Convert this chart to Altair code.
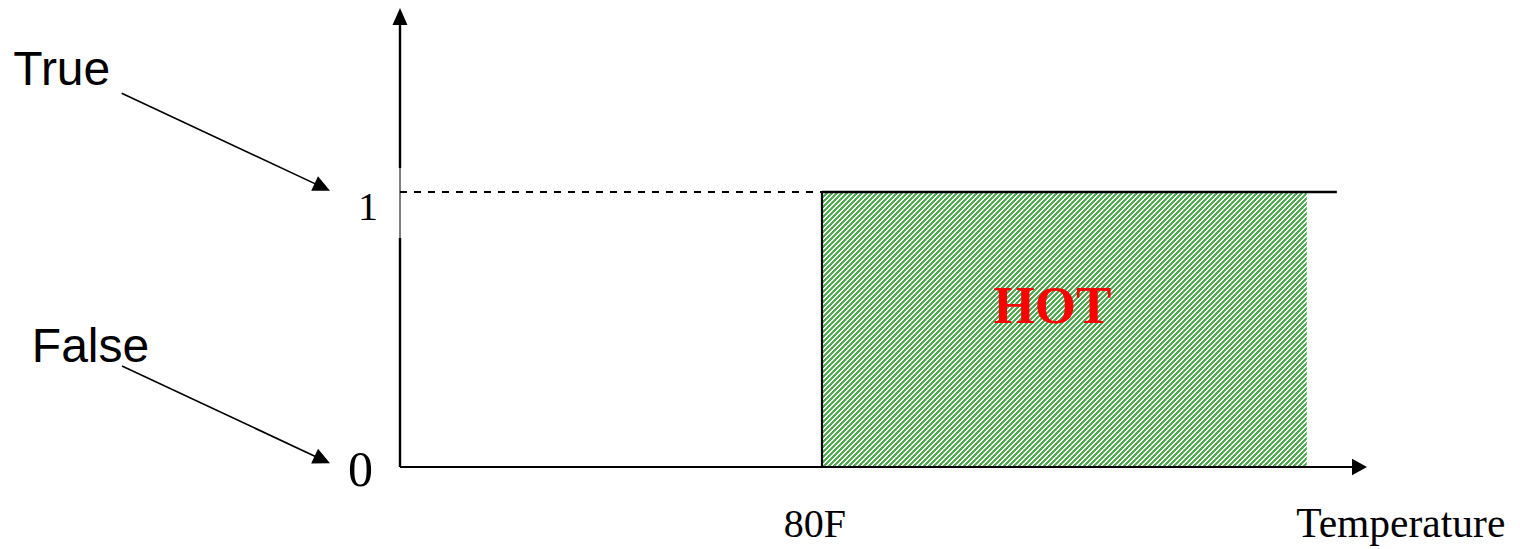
import altair as alt
import pandas as pd

# ---------------- data ----------------
truth_levels = [0, 1]
truth_tick_labels = ["0", "1"]
state_names = ["True", "False"]
state_targets = [1, 0]
threshold_temp = 80
threshold_label = "80F"
hot_end_temp = 171.9
step_line_end_temp = 177.6
axis_title = "Temperature"
region_label = "HOT"

# ---------------- scales (whole canvas is the plot area) ----------------
W, H = 1504, 538
X_DOM = [-74.313, 210.806]
Y_DOM = [-0.28727, 1.66909]
xs = alt.Scale(domain=X_DOM, nice=False, zero=False)
ys = alt.Scale(domain=Y_DOM, nice=False, zero=False)
PX = (X_DOM[1] - X_DOM[0]) / W   # data units per pixel (x)
PY = (Y_DOM[1] - Y_DOM[0]) / H   # data units per pixel (y)

def X(f):
    return alt.X(f, type="quantitative", scale=xs, axis=None)

def Y(f):
    return alt.Y(f, type="quantitative", scale=ys, axis=None)

y_top = 1.607
x_end = 180.6

# ---------------- line segments ----------------
seg = pd.DataFrame([
    dict(x=0, x2=0, y=truth_levels[0], y2=0.833, w=2.4),
    dict(x=0, x2=0, y=0.833, y2=1.087, w=1.0),
    dict(x=0, x2=0, y=1.087, y2=y_top, w=2.4),
    dict(x=0, x2=x_end, y=truth_levels[0], y2=truth_levels[0], w=2.0),
    dict(x=threshold_temp, x2=threshold_temp, y=truth_levels[0], y2=truth_levels[1], w=2.2),
    dict(x=threshold_temp, x2=step_line_end_temp, y=truth_levels[1], y2=truth_levels[1], w=2.5),
    dict(x=-52.76, x2=-14.73, y=1.3589, y2=1.0178, w=1.6),
    dict(x=-52.70, x2=-14.73, y=0.3673, y2=0.02655, w=1.6),
])

rules = alt.Chart(seg).mark_rule(color="black").encode(
    x=X("x"), x2="x2", y=Y("y"), y2="y2",
    strokeWidth=alt.StrokeWidth("w:Q", scale=None),
)

dashed = alt.Chart(pd.DataFrame({"x": [0], "x2": [threshold_temp],
                                 "y": [truth_levels[1]], "y2": [truth_levels[1]]})).mark_rule(
    color="black", strokeWidth=2, strokeDash=[7, 7]
).encode(x=X("x"), x2="x2", y=Y("y"), y2="y2")

# ---------------- hatched HOT region ----------------
rw = (hot_end_temp - threshold_temp) / PX
rh = (truth_levels[1] - truth_levels[0]) / PY
period = 5.0
n = int((rw + rh) / period) + 1
green = "#52ad52"
stops = []
for i in range(n):
    a = i / n
    b = (i + 0.5) / n
    c = (i + 1) / n
    stops += [alt.GradientStop(offset=a, color=green),
              alt.GradientStop(offset=b, color=green),
              alt.GradientStop(offset=b, color="#ffffff"),
              alt.GradientStop(offset=c, color="#ffffff")]
k = (1 + rh / rw) / (1 + (rh / rw) ** 2)
grad = alt.Gradient(gradient="linear", stops=stops, x1=0, y1=0,
                    x2=k, y2=k * rh / rw)

hot = alt.Chart(pd.DataFrame({"x": [threshold_temp], "x2": [hot_end_temp],
                              "y": [truth_levels[0]], "y2": [truth_levels[1]]})).mark_rect(
    fill=grad, strokeWidth=0
).encode(x=X("x"), x2="x2", y=Y("y"), y2="y2")

# ---------------- arrow heads ----------------
heads = pd.DataFrame([
    dict(x=0, y=1.638, shape="M0,-1L-0.88,1L0.88,1Z", size=289, angle=0),
    dict(x=181.9, y=0, shape="M1,0L-1,-1.1L-1,1.1Z", size=225, angle=0),
    dict(x=-14.73, y=1.0178, shape="M1,0L-1,-0.95L-1,0.95Z", size=289, angle=25),
    dict(x=-14.73, y=0.02655, shape="M1,0L-1,-0.95L-1,0.95Z", size=289, angle=25),
])
arrows = alt.Chart(heads).mark_point(filled=True, color="black", opacity=1, strokeWidth=0).encode(
    x=X("x"), y=Y("y"),
    shape=alt.Shape("shape:N", scale=None),
    size=alt.Size("size:Q", scale=None),
    angle=alt.Angle("angle:Q", scale=None),
)

# ---------------- texts ----------------
state_txt = alt.Chart(pd.DataFrame({
    "x": [-73.3, -69.8], "y": [1.389, 0.3818], "t": state_names})).mark_text(
    font="Liberation Sans", fontSize=48, align="left", baseline="alphabetic", color="black"
).encode(x=X("x"), y=Y("y"), text="t:N")

tick1 = alt.Chart(pd.DataFrame({"x": [-6.066], "y": [0.8982], "t": [truth_tick_labels[1]]})).mark_text(
    font="Liberation Serif", fontSize=40, align="center", baseline="alphabetic", color="black"
).encode(x=X("x"), y=Y("y"), text="t:N")

tick0 = alt.Chart(pd.DataFrame({"x": [-7.488], "y": [-0.07], "t": [truth_tick_labels[0]]})).mark_text(
    font="Liberation Serif", fontSize=50, align="center", baseline="alphabetic", color="black"
).encode(x=X("x"), y=Y("y"), text="t:N")

xlab = alt.Chart(pd.DataFrame({"x": [78.67], "y": [-0.2545], "t": [threshold_label]})).mark_text(
    font="Liberation Serif", fontSize=40, align="center", baseline="alphabetic", color="black"
).encode(x=X("x"), y=Y("y"), text="t:N")

xtitle = alt.Chart(pd.DataFrame({"x": [169.9], "y": [-0.2545], "t": [axis_title]})).mark_text(
    font="Liberation Serif", fontSize=41.5, align="left", baseline="alphabetic", color="black"
).encode(x=X("x"), y=Y("y"), text="t:N")

hot_txt = alt.Chart(pd.DataFrame({"x": [123.7], "y": [0.5236], "t": [region_label]})).mark_text(
    font="Liberation Serif", fontSize=53, fontWeight="bold", align="center",
    baseline="alphabetic", color="#ff0000"
).encode(x=X("x"), y=Y("y"), text="t:N")

chart = alt.layer(
    hot, dashed, rules, arrows, state_txt, tick1, tick0, xlab, xtitle, hot_txt
).properties(
    width=W, height=H, padding=0, autosize=alt.AutoSizeParams(type="none"), background="white"
).configure_view(stroke=None)

chart.save("out.html", embed_options={"renderer": "svg", "actions": False})
